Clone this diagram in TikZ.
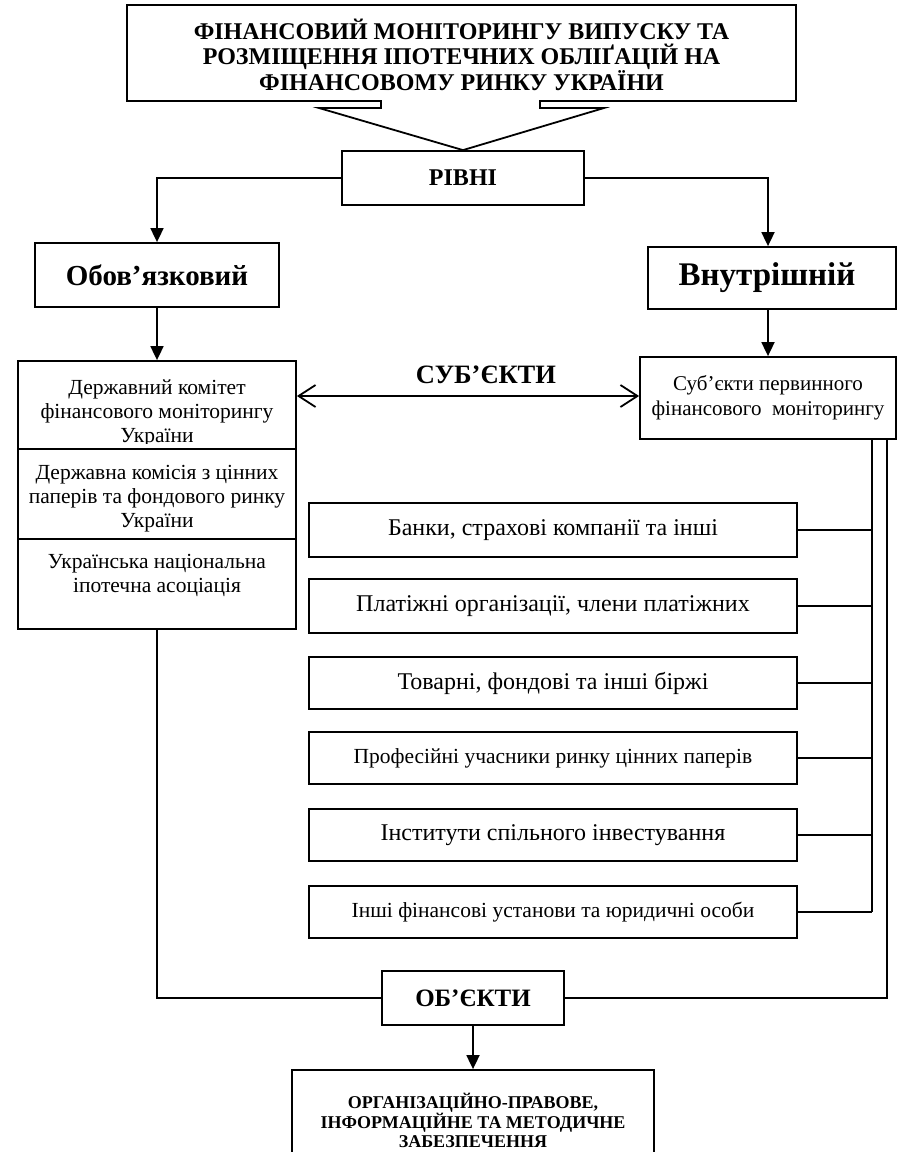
\documentclass[tikz,border=0pt]{standalone}
\usepackage{fontspec}
\setmainfont{Liberation Serif}
\usetikzlibrary{arrows.meta}
\begin{document}
\begin{tikzpicture}[x=1pt,y=-1pt,line width=1.8pt,
  box/.style={draw,line width=1.8pt,inner sep=0pt,align=center},
  txt/.style={inner sep=0pt,align=center},
  arr/.style={-{Triangle[length=14pt,width=13pt]}},
  dbl/.style={{Straight Barb[length=17pt,width=22pt,line width=1.8pt]}-{Straight Barb[length=17pt,width=22pt,line width=1.8pt]}},
  ttl/.style={font=\fontsize{24}{25}\selectfont\bfseries},
  reg/.style={font=\fontsize{24}{26}\selectfont},
  regs/.style={font=\fontsize{21.5}{24}\selectfont},
  cell/.style={font=\fontsize{21.5}{24}\selectfont},
]
\useasboundingbox (0,0) rectangle (897,1152);

% title callout
\node[txt,ttl] (title) at (461.5,55) {ФІНАНСОВИЙ МОНІТОРИНГУ ВИПУСКУ ТА\\РОЗМІЩЕННЯ ІПОТЕЧНИХ ОБЛІҐАЦІЙ НА\\ФІНАНСОВОМУ РИНКУ УКРАЇНИ};
\node[box,minimum width=242pt,minimum height=54pt,font=\fontsize{24}{26}\selectfont\bfseries] (rivni) at (463,178) {РІВНІ};
\draw[line join=miter] (381,101) -- (127,101) -- (127,5) -- (796,5) -- (796,101) -- (540,101) -- (540,108) -- (604,108) -- (rivni.north) -- (319,108) -- (381,108) -- cycle;

% levels
\node[box,minimum width=244pt,minimum height=64pt,font=\fontsize{29}{31}\selectfont\bfseries] (obov) at (157,275) {Обов’язковий};
\node[box,minimum width=248pt,minimum height=62pt,font=\fontsize{33}{35}\selectfont\bfseries] (vnutr) at (772,278) {Внутрішній\hspace*{10pt}};
\draw[arr] (rivni.west) -| (obov.north);
\draw[arr] (rivni.east) -- (768,0 |- rivni.east) -- (768,0 |- vnutr.north);

% left stack
\node[box,minimum width=278pt,minimum height=88pt] (st1) at (157,405) {};
\node[box,minimum width=278pt,minimum height=90pt] (st2) at (157,494) {};
\node[box,minimum width=278pt,minimum height=90pt] (st3) at (157,584) {};
\begin{scope}
\clip (19,362) rectangle (295,443);
\node[txt,cell,anchor=north] (st1t) at (157,379) {Державний комітет\\фінансового моніторингу\\України};
\end{scope}
\begin{scope}
\clip (19,450) rectangle (295,532);
\node[txt,cell,anchor=north] (st2t) at (157,464) {Державна комісія з цінних\\паперів та фондового ринку\\України};
\end{scope}
\node[txt,font=\fontsize{21.5}{24}\selectfont,anchor=north] (st3t) at (157,553) {Українська національна\\іпотечна асоціація};
\draw[arr] (obov.south) -- (obov.south |- st1.north);

% right subjects
\node[box,minimum width=256pt,minimum height=82pt,font=\fontsize{21}{25}\selectfont] (subj) at (768,398) {Суб’єкти первинного\\фінансового\ \ моніторингу};
\draw[arr] (768,0 |- vnutr.south) -- (subj.north);
\draw[dbl] (st1.east |- 0,396) -- (subj.west |- 0,396);
\node[txt,font=\fontsize{26.5}{28}\selectfont\bfseries,anchor=base] (subl) at (486,383) {СУБ’ЄКТИ};

\node[box,reg,minimum width=488pt,minimum height=54pt] (b1) at (553,530) {Банки, страхові компанії та інші};
\node[box,reg,minimum width=488pt,minimum height=54pt] (b2) at (553,606) {Платіжні організації, члени платіжних};
\node[box,reg,minimum width=488pt,minimum height=52pt] (b3) at (553,683) {Товарні, фондові та інші біржі};
\node[box,regs,minimum width=488pt,minimum height=52pt] (b4) at (553,758) {Професійні учасники ринку цінних паперів};
\node[box,reg,minimum width=488pt,minimum height=52pt] (b5) at (553,835) {Інститути спільного інвестування};
\node[box,regs,minimum width=488pt,minimum height=52pt] (b6) at (553,912) {Інші фінансові установи та юридичні особи};

\draw (872,0 |- subj.south) -- (872,0 |- b6.east);
\foreach \b in {b1,b2,b3,b4,b5,b6} \draw (\b.east) -- (872,0 |- \b.east);

% objects
\node[box,minimum width=182pt,minimum height=54pt,font=\fontsize{25}{27}\selectfont\bfseries] (obj) at (473,998) {ОБ’ЄКТИ};
\draw (887,0 |- subj.south) |- (obj.east);
\draw (st3.south) |- (obj.west);

\node[draw,line width=1.8pt,minimum width=362pt,minimum height=100pt,inner sep=0pt] (bot) at (473,1120) {};
\node[txt,font=\fontsize{18}{19}\selectfont\bfseries] (bott) at (473,1120) {ОРГАНІЗАЦІЙНО-ПРАВОВЕ,\\ІНФОРМАЦІЙНЕ ТА МЕТОДИЧНЕ\\ЗАБЕЗПЕЧЕННЯ};
\draw[arr] (obj.south) -- (bot.north);
\end{tikzpicture}
\end{document}
